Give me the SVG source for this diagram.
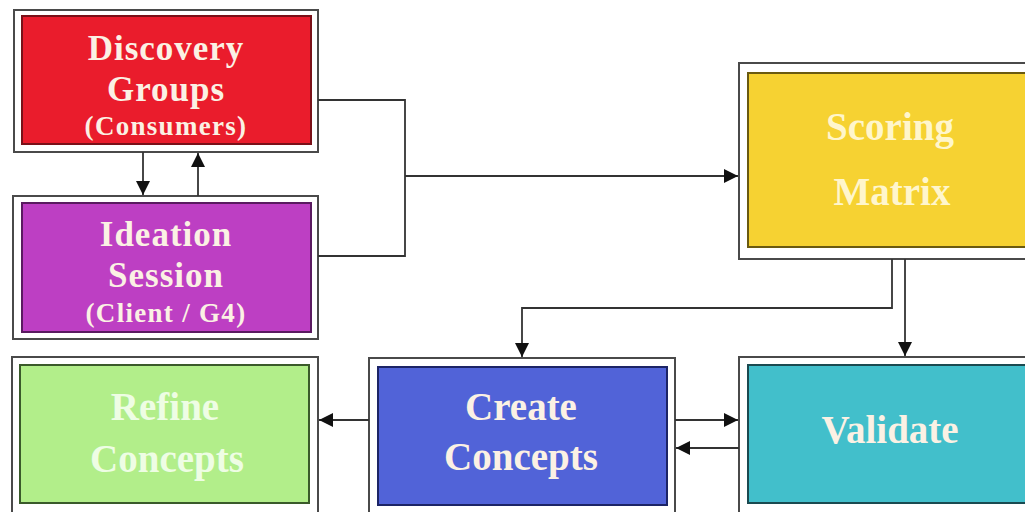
<svg xmlns="http://www.w3.org/2000/svg" width="1025" height="512" viewBox="0 0 1025 512">
<style>
.outer{fill:#ffffff;stroke:#4a4a4a;stroke-width:2}
.inner{stroke-width:2}
.t{font-family:"Liberation Serif","DejaVu Serif",serif;font-weight:bold;text-anchor:middle;fill:#fbf1e4}
.big{font-size:39px}
.mid{font-size:35px;letter-spacing:1px}
.small{font-size:27px;letter-spacing:1.3px}
.conn{fill:none;stroke:#333333;stroke-width:1.8}
</style>
<defs>
<marker id="ah" viewBox="0 0 10 10" refX="10" refY="5" markerWidth="14" markerHeight="14" markerUnits="userSpaceOnUse" orient="auto">
<path d="M0,0 L10,5 L0,10 z" fill="#111111"/>
</marker>
</defs>
<rect width="1025" height="512" fill="#ffffff"/>

<g id="discovery">
<rect class="outer" x="14" y="10" width="304" height="142"/>
<rect class="inner" x="22" y="16" width="289" height="128" fill="#ea1c2c" stroke="#7a1018"/>
<text class="t mid" x="166" y="60">Discovery</text>
<text class="t mid" x="166" y="101">Groups</text>
<text class="t small" x="166" y="135">(Consumers)</text>
</g>

<g id="ideation">
<rect class="outer" x="13" y="196" width="305" height="143"/>
<rect class="inner" x="22" y="203" width="289" height="129" fill="#bd3fc3" stroke="#5a1a60"/>
<text class="t mid" x="166" y="246">Ideation</text>
<text class="t mid" x="166" y="287">Session</text>
<text class="t small" x="166" y="322">(Client / G4)</text>
</g>

<g id="scoring">
<rect class="outer" x="739" y="63" width="300" height="196"/>
<rect class="inner" x="748" y="73" width="290" height="174" fill="#f6d232" stroke="#6a5a10"/>
<text class="t big" x="890" y="140" style="fill:#fff6cc">Scoring</text>
<text class="t big" x="892" y="205" style="fill:#fff6cc">Matrix</text>
</g>

<g id="refine">
<rect class="outer" x="12" y="357" width="306" height="160"/>
<rect class="inner" x="20" y="365" width="289" height="138" fill="#b2ee8a" stroke="#3a5a2a"/>
<text class="t big" x="165" y="420" style="fill:#eefde4">Refine</text>
<text class="t big" x="167" y="472" style="fill:#eefde4">Concepts</text>
</g>

<g id="create">
<rect class="outer" x="369" y="358" width="306" height="160"/>
<rect class="inner" x="378" y="367" width="289" height="138" fill="#5163d8" stroke="#1c2466"/>
<text class="t big" x="521" y="420">Create</text>
<text class="t big" x="521" y="470">Concepts</text>
</g>

<g id="validate">
<rect class="outer" x="739" y="357" width="300" height="160"/>
<rect class="inner" x="748" y="365" width="290" height="138" fill="#42bfcb" stroke="#1a4a50"/>
<text class="t big" x="890" y="443">Validate</text>
</g>

<g id="connectors">
<line class="conn" x1="143" y1="152" x2="143" y2="195" marker-end="url(#ah)"/>
<line class="conn" x1="198" y1="196" x2="198" y2="153" marker-end="url(#ah)"/>
<polyline class="conn" points="318,100 405,100 405,256 318,256"/>
<line class="conn" x1="405" y1="176" x2="738" y2="176" marker-end="url(#ah)"/>
<polyline class="conn" points="892,259 892,308 522,308 522,357" marker-end="url(#ah)"/>
<line class="conn" x1="905" y1="259" x2="905" y2="356" marker-end="url(#ah)"/>
<line class="conn" x1="369" y1="420" x2="319" y2="420" marker-end="url(#ah)"/>
<line class="conn" x1="675" y1="420" x2="738" y2="420" marker-end="url(#ah)"/>
<line class="conn" x1="739" y1="448" x2="676" y2="448" marker-end="url(#ah)"/>
</g>
</svg>
